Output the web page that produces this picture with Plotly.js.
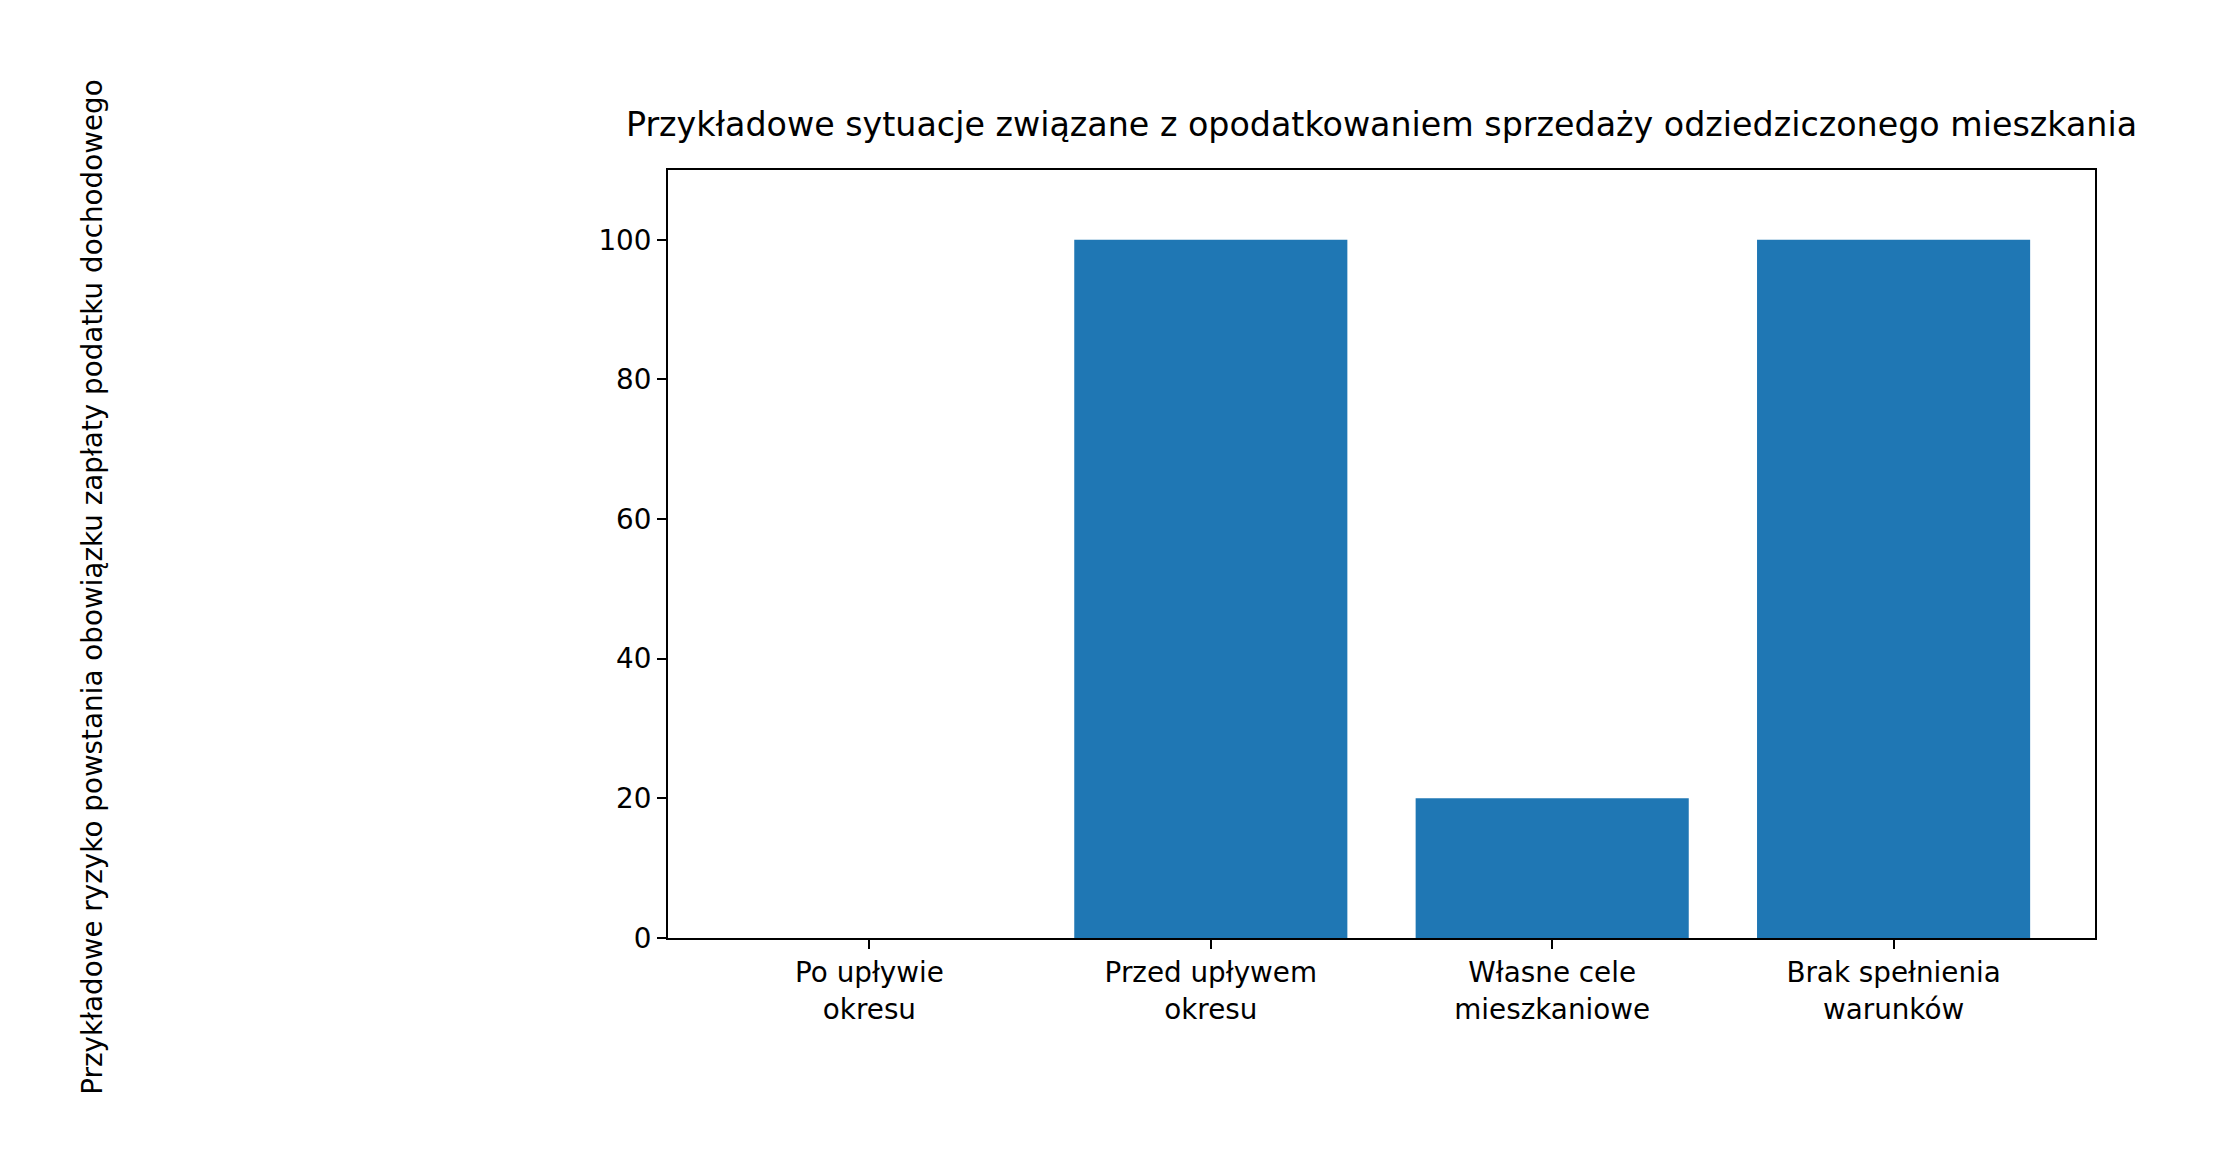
<!DOCTYPE html>
<html>
<head>
<meta charset="utf-8">
<script src="https://cdn.plot.ly/plotly-3.0.1.min.js"></script>
<style>html,body{margin:0;padding:0;background:#fff;}#chart{width:2218px;height:1174px;}</style>
</head>
<body>
<div id="chart"></div>
<script>
const categories = ["Po upływie<br>okresu", "Przed upływem<br>okresu", "Własne cele<br>mieszkaniowe", "Brak spełnienia<br>warunków"];
const values = [0, 100, 20, 100];
const yTicks = [0, 20, 40, 60, 80, 100];
const chartTitle = "Przykładowe sytuacje związane z opodatkowaniem sprzedaży odziedziczonego mieszkania";
const yLabel = "Przykładowe ryzyko powstania obowiązku zapłaty podatku dochodowego";

const W = 2218, H = 1174;
const L = 667.6, R = 2094.8, T = 169.7, B = 937.8;
const font = "DejaVu Sans";
const fs = 27.8;

const trace = {
  type: "bar",
  x: categories.map((c, i) => i),
  y: values,
  width: 0.8,
  marker: {color: "#1f77b4", line: {width: 0}},
  hoverinfo: "skip"
};

const layout = {
  width: W, height: H,
  paper_bgcolor: "#fff", plot_bgcolor: "#fff",
  margin: {l: L, r: W - R, t: T, b: H - B, pad: 0},
  font: {family: font, color: "#000", size: fs},
  showlegend: false,
  title: {
    text: chartTitle,
    font: {family: font, size: 33.3, color: "#000"},
    xref: "paper", x: 0.5, xanchor: "center",
    yref: "container", y: 1 - 124 / H, yanchor: "middle"
  },
  xaxis: {
    range: [-0.59, 3.59],
    tickmode: "array",
    tickvals: categories.map((c, i) => i),
    ticktext: categories,
    ticks: "outside", ticklen: 9, tickwidth: 2, tickcolor: "#000",
    showline: true, linecolor: "#000", linewidth: 2, mirror: true,
    showgrid: false, zeroline: false,
    tickfont: {family: font, size: fs, color: "#000"},
    fixedrange: true
  },
  yaxis: {
    range: [0, 110],
    tickmode: "array",
    tickvals: yTicks,
    ticktext: yTicks.map(String),
    ticks: "outside", ticklen: 9, tickwidth: 2, tickcolor: "#000",
    showline: true, linecolor: "#000", linewidth: 2, mirror: true,
    showgrid: false, zeroline: false,
    tickfont: {family: font, size: fs, color: "#000"},
    fixedrange: true
  },
  annotations: [{
    text: yLabel,
    xref: "paper", yref: "paper",
    x: (92 - L) / (R - L), y: (B - 587) / (B - T),
    xanchor: "center", yanchor: "middle",
    textangle: -90, showarrow: false,
    font: {family: font, size: fs, color: "#000"}
  }]
};

Plotly.newPlot("chart", [trace], layout, {displayModeBar: false, staticPlot: true});
</script>
</body>
</html>
